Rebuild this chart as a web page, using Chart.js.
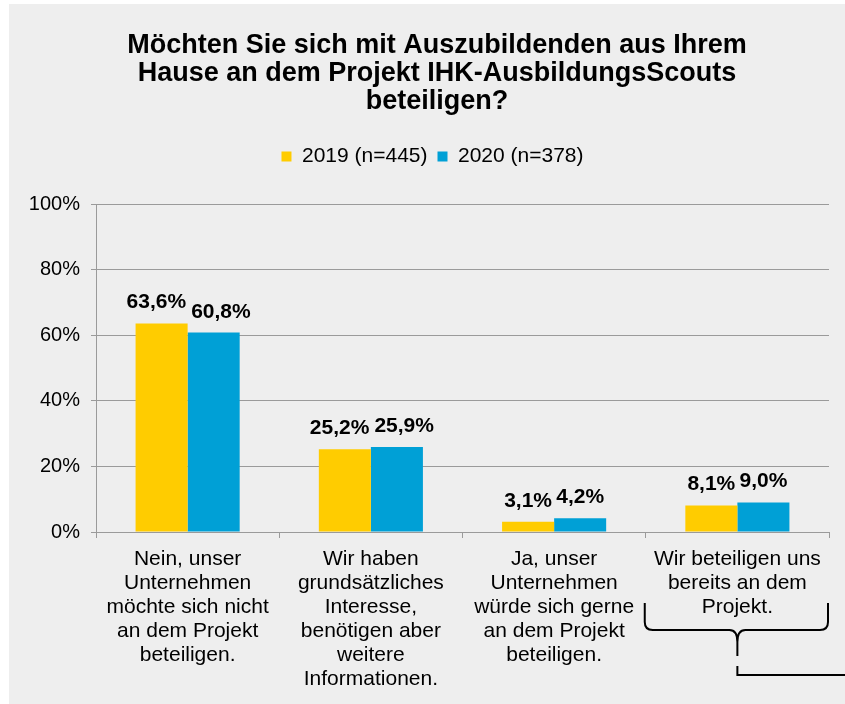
<!DOCTYPE html>
<html>
<head>
<meta charset="utf-8">
<script src="https://cdn.jsdelivr.net/npm/chart.js@4"></script>
<style>
  html, body { margin: 0; padding: 0; background: #ffffff; }
  #wrap { width: 845px; height: 704px; }
</style>
</head>
<body>
<div id="wrap"><canvas id="c" width="845" height="704"></canvas></div>
<script>
const titleLines = [
  "Möchten Sie sich mit Auszubildenden aus Ihrem",
  "Hause an dem Projekt IHK-AusbildungsScouts",
  "beteiligen?"
];
const categories = [
  ["Nein, unser", "Unternehmen", "möchte sich nicht", "an dem Projekt", "beteiligen."],
  ["Wir haben", "grundsätzliches", "Interesse,", "benötigen aber", "weitere", "Informationen."],
  ["Ja, unser", "Unternehmen", "würde sich gerne", "an dem Projekt", "beteiligen."],
  ["Wir beteiligen uns", "bereits an dem", "Projekt."]
];
const seriesNames = ["2019 (n=445)", "2020 (n=378)"];
const values2019 = [63.6, 25.2, 3.1, 8.1];
const values2020 = [60.8, 25.9, 4.2, 9.0];
const yTicks = [0, 20, 40, 60, 80, 100];

const FONT = '"Liberation Sans", Arial, sans-serif';
const YELLOW = '#FFCC00';
const BLUE = '#00A0D6';
const GRID = '#9a9a9a';

function fmt(v) { return v.toFixed(1).replace('.', ',') + '%'; }

const background = {
  id: 'background',
  beforeDraw(chart) {
    const ctx = chart.ctx;
    ctx.save();
    ctx.fillStyle = '#ffffff';
    ctx.fillRect(0, 0, chart.width, chart.height);
    ctx.fillStyle = '#EEEEEE';
    ctx.fillRect(9, 4, chart.width - 9, chart.height - 4);
    ctx.restore();
  }
};

// Chart title, centred over the plot like the reference
const chartTitle = {
  id: 'chartTitle',
  afterDraw(chart) {
    const ctx = chart.ctx;
    ctx.save();
    ctx.font = 'bold 27px ' + FONT;
    ctx.fillStyle = '#000';
    ctx.textAlign = 'center';
    ctx.textBaseline = 'middle';
    const cx = 437;
    titleLines.forEach((line, i) => ctx.fillText(line, cx, 46 + i * 28));
    ctx.restore();
  }
};

const legendTweak = {
  id: 'legendTweak',
  beforeInit(chart) {
    const lg = chart.legend;
    const origFit = lg.fit;
    lg.fit = function () {
      origFit.call(this);
      this.height += 27;
    };
    const origDraw = lg.draw;
    lg.draw = function () {
      const ctx = this.ctx;
      ctx.save();
      ctx.translate(8, 0);
      origDraw.call(this);
      ctx.restore();
    };
  }
};

const valueLabels = {
  id: 'valueLabels',
  afterDatasetsDraw(chart) {
    const ctx = chart.ctx;
    ctx.save();
    ctx.font = 'bold 21px ' + FONT;
    ctx.fillStyle = '#000';
    ctx.textAlign = 'center';
    ctx.textBaseline = 'alphabetic';
    const m0 = chart.getDatasetMeta(0), m1 = chart.getDatasetMeta(1);
    categories.forEach((c, i) => {
      const b0 = m0.data[i], b1 = m1.data[i];
      const t0 = fmt(values2019[i]), t1 = fmt(values2020[i]);
      const w0 = ctx.measureText(t0).width, w1 = ctx.measureText(t1).width;
      let x0 = b0.x, x1 = b1.x;
      const y0 = b0.y - 15, y1 = b1.y - 15;
      const overlap = (x0 + w0 / 2 + 3) - (x1 - w1 / 2);
      if (overlap > 0 && Math.abs(y0 - y1) < 22) { x0 -= overlap / 2; x1 += overlap / 2 + 2; }
      ctx.fillText(t0, x0, y0);
      ctx.fillText(t1, x1, y1);
    });
    ctx.restore();
  }
};

const brace = {
  id: 'brace',
  afterDraw(chart) {
    const ctx = chart.ctx;
    const xs = chart.scales.x;
    const n = categories.length;
    const cw = (xs.right - xs.left) / n;
    const cx = xs.getPixelForValue(n - 1);
    const L = cx - cw / 2 - 1, R = cx + cw / 2 - 1;
    const base = chart.chartArea.bottom;
    const top = base + 71, hy = base + 98, stemEnd = base + 124, l2 = base + 134, l2b = base + 143;
    ctx.save();
    ctx.strokeStyle = '#000';
    ctx.lineWidth = 2;
    ctx.beginPath();
    ctx.moveTo(L, top);
    ctx.lineTo(L, hy - 8);
    ctx.quadraticCurveTo(L, hy, L + 8, hy);
    ctx.lineTo(cx - 8, hy);
    ctx.quadraticCurveTo(cx, hy, cx, hy + 12);
    ctx.lineTo(cx, stemEnd);
    ctx.moveTo(cx, hy + 12);
    ctx.quadraticCurveTo(cx, hy, cx + 8, hy);
    ctx.lineTo(R - 8, hy);
    ctx.quadraticCurveTo(R, hy, R, hy - 8);
    ctx.lineTo(R, top);
    ctx.stroke();
    ctx.beginPath();
    ctx.moveTo(cx, l2);
    ctx.lineTo(cx, l2b);
    ctx.lineTo(chart.width, l2b);
    ctx.stroke();
    ctx.restore();
  }
};

Chart.defaults.font.family = FONT;
Chart.defaults.color = '#000';

new Chart(document.getElementById('c'), {
  type: 'bar',
  data: {
    labels: categories,
    datasets: [
      { label: seriesNames[0], data: values2019, backgroundColor: YELLOW, borderWidth: 0 },
      { label: seriesNames[1], data: values2020, backgroundColor: BLUE, borderWidth: 0 }
    ]
  },
  options: {
    responsive: false,
    animation: false,
    devicePixelRatio: 1,
    categoryPercentage: 0.568,
    barPercentage: 1.0,
    layout: { padding: { top: 136, left: 20, right: 16, bottom: 0 } },
    plugins: {
      title: { display: false },
      legend: {
        display: true,
        position: 'top',
        labels: {
          boxWidth: 10,
          boxHeight: 10,
          padding: 10,
          color: '#000',
          font: { size: 21, family: FONT }
        }
      },
      tooltip: { enabled: false }
    },
    scales: {
      x: {
        grid: { offset: true, drawOnChartArea: false, drawTicks: true, tickLength: 6, color: GRID },
        border: { display: true, color: GRID, width: 1 },
        ticks: {
          color: '#000',
          font: { size: 21, family: FONT, lineHeight: '24px' },
          maxRotation: 0,
          autoSkip: false,
          padding: 9
        },
        afterFit(s) { s.height = 172; }
      },
      y: {
        min: 0,
        max: 100,
        afterBuildTicks(s) { s.ticks = yTicks.map(v => ({ value: v })); },
        ticks: {
          color: '#000',
          font: { size: 20, family: FONT },
          padding: 11,
          callback: v => v + '%'
        },
        grid: { color: GRID, tickLength: 5, drawTicks: true },
        border: { display: true, color: GRID, width: 1 },
        afterFit(s) { s.width = 76; }
      }
    }
  },
  plugins: [background, legendTweak, valueLabels, brace, chartTitle]
});
</script>
</body>
</html>
